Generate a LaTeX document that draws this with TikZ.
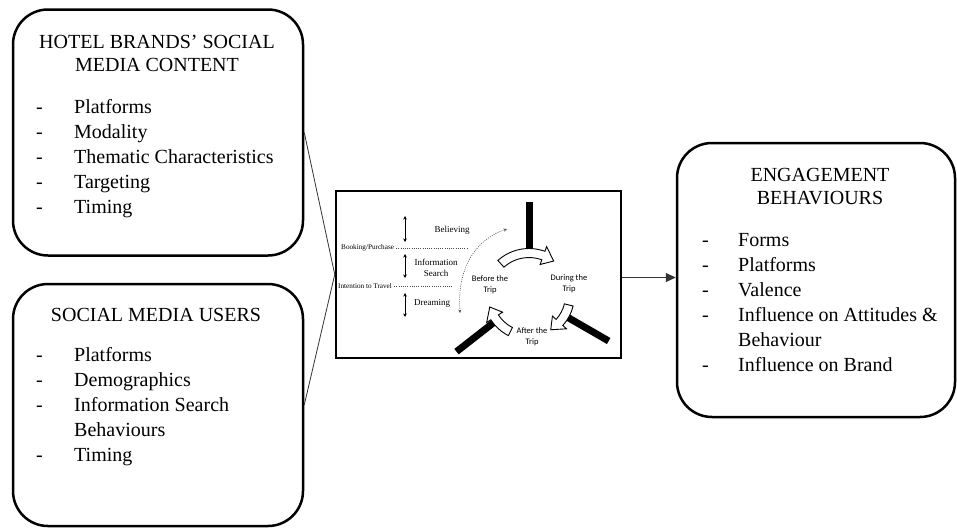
\documentclass[tikz,border=0pt]{standalone}
\usepackage{fontspec}
\setmainfont{Liberation Serif}
\newfontfamily\carl{Carlito}
\usetikzlibrary{arrows.meta,calc}
\newcommand\cycarrow[6]{%
  \filldraw[fill=white,draw=black,line width=0.9pt]
    (#1:#4pt+#5pt) arc[start angle=#1,end angle=#2,radius=#4pt+#5pt]
    -- (#2:#4pt+#6pt) -- (#3:#4pt) -- (#2:#4pt-#6pt) -- (#2:#4pt-#5pt)
    arc[start angle=#2,end angle=#1,radius=#4pt-#5pt] -- cycle;}
\begin{document}
\begin{tikzpicture}[x=1pt,y=-1pt,
  bigbox/.style={draw,line width=2.5pt,rounded corners=35pt,inner sep=0pt},
  title/.style={font=\fontsize{20}{23}\selectfont,align=center,anchor=base,inner sep=0pt},
  items/.style={font=\fontsize{20}{25}\selectfont,anchor=base west,inner sep=0pt},
  conn/.style={draw=black!80,line width=0.8pt},
  small/.style={font=\fontsize{9}{11}\selectfont,align=center,inner sep=0pt},
  tiny/.style={font=\fontsize{7.2}{9}\selectfont,anchor=west,inner sep=0pt},
  cyc/.style={font=\carl\fontsize{8.5}{10.5}\selectfont,align=center,inner sep=0pt},
  dots/.style={draw=black!70,line width=0.6pt,dash pattern=on 1pt off 1.2pt},
  dbl/.style={line width=0.8pt,{Stealth[length=3.5pt,width=3.5pt]}-{Stealth[length=3.5pt,width=3.5pt]}}
]
\useasboundingbox (0,0) rectangle (957,528);
\fill[white] (0,0) rectangle (957,528);

% boxes
\node[bigbox,minimum width=290pt,minimum height=246pt] (hotel) at (158,132.5) {};
\node[bigbox,minimum width=290pt,minimum height=242pt] (users) at (158,405) {};
\node[bigbox,minimum width=278pt,minimum height=274pt] (engage) at (816,280) {};
\node[draw,line width=2.5pt,minimum width=285pt,minimum height=167pt,inner sep=0pt] (mid) at (478.5,274.5) {};

% hotel text
\node[title] (ht) at (157,71.6) {HOTEL BRANDS’ SOCIAL\\MEDIA CONTENT};
\node[items] (hi) at (36,113) {\begin{tabular}[t]{@{}p{38pt}@{}l@{}}
-&Platforms\\ -&Modality\\ -&Thematic Characteristics\\ -&Targeting\\ -&Timing\end{tabular}};

% users text
\node[title] (ut) at (156,321.6) {SOCIAL MEDIA USERS};
\node[items] (ui) at (36,361) {\begin{tabular}[t]{@{}p{38pt}@{}l@{}}
-&Platforms\\ -&Demographics\\ -&Information Search\\ &Behaviours\\ -&Timing\end{tabular}};

% engagement text
\node[title] (et) at (820,204.6) {ENGAGEMENT\\BEHAVIOURS};
\node[items] (ei) at (702,246) {\begin{tabular}[t]{@{}p{36pt}@{}l@{}}
-&Forms\\ -&Platforms\\ -&Valence\\ -&Influence on Attitudes \&\\ &Behaviour\\ -&Influence on Brand\end{tabular}};

% connectors
\draw[conn] (hotel.east) -- (mid.west);
\draw[conn] (users.east) -- (mid.west);
\draw[conn,-{Triangle[length=10pt,width=9pt]}] (mid.east) ++(0,3) coordinate (a1) -- (a1 -| engage.west);

% center picture: stages
\node[small] (bel) at (452,230) {Believing};
\node[small] (inf) at (436,267.5) {Information\\Search};
\node[small] (dre) at (432,303) {Dreaming};
\node[tiny] (book) at (341,248) {Booking/Purchase};
\node[tiny] (intt) at (338,286) {Intention to Travel};
\coordinate (bk2) at (467,248);
\coordinate (it2) at (452,286);
\draw[dots] (book.east) ++(2,0) -- (bk2);
\draw[dots] (intt.east) ++(2,0) -- (it2);
\coordinate (d1a) at (405,216); \coordinate (d1b) at (405,242);
\coordinate (d2a) at (405,254); \coordinate (d2b) at (405,278);
\coordinate (d3a) at (405,293); \coordinate (d3b) at (405,317);
\draw[dbl] (d1a) -- (d1b);
\draw[dbl] (d2a) -- (d2b);
\draw[dbl] (d3a) -- (d3b);
\coordinate (cva) at (460,313);
\coordinate (cvb) at (507,229);
\draw[dots,{Stealth[length=3.5pt,width=3pt]}-{Stealth[length=3.5pt,width=3pt]}]
  (cva) .. controls (457,270) and (474,240) .. (cvb);

% cycle
\begin{scope}[shift={(529,295)}]
  \draw[line width=7pt] (90:45pt) -- (90:93pt);
  \draw[line width=7pt] (218:45pt) -- (218:92pt);
  \draw[line width=7pt] (330:45pt) -- (330:92pt);
  \cycarrow{132}{70}{54}{42}{4.5}{9.5}
  \cycarrow{-14}{-42}{-58}{41}{4.5}{9.5}
  \cycarrow{243}{213}{197}{41}{4.5}{9.5}
\end{scope}
\node[cyc] (bef) at (490,284.5) {Before the\\Trip};
\node[cyc] (dur) at (569,283.5) {During the\\Trip};
\node[cyc] (aft) at (532,336.5) {After the\\Trip};
\end{tikzpicture}
\end{document}
